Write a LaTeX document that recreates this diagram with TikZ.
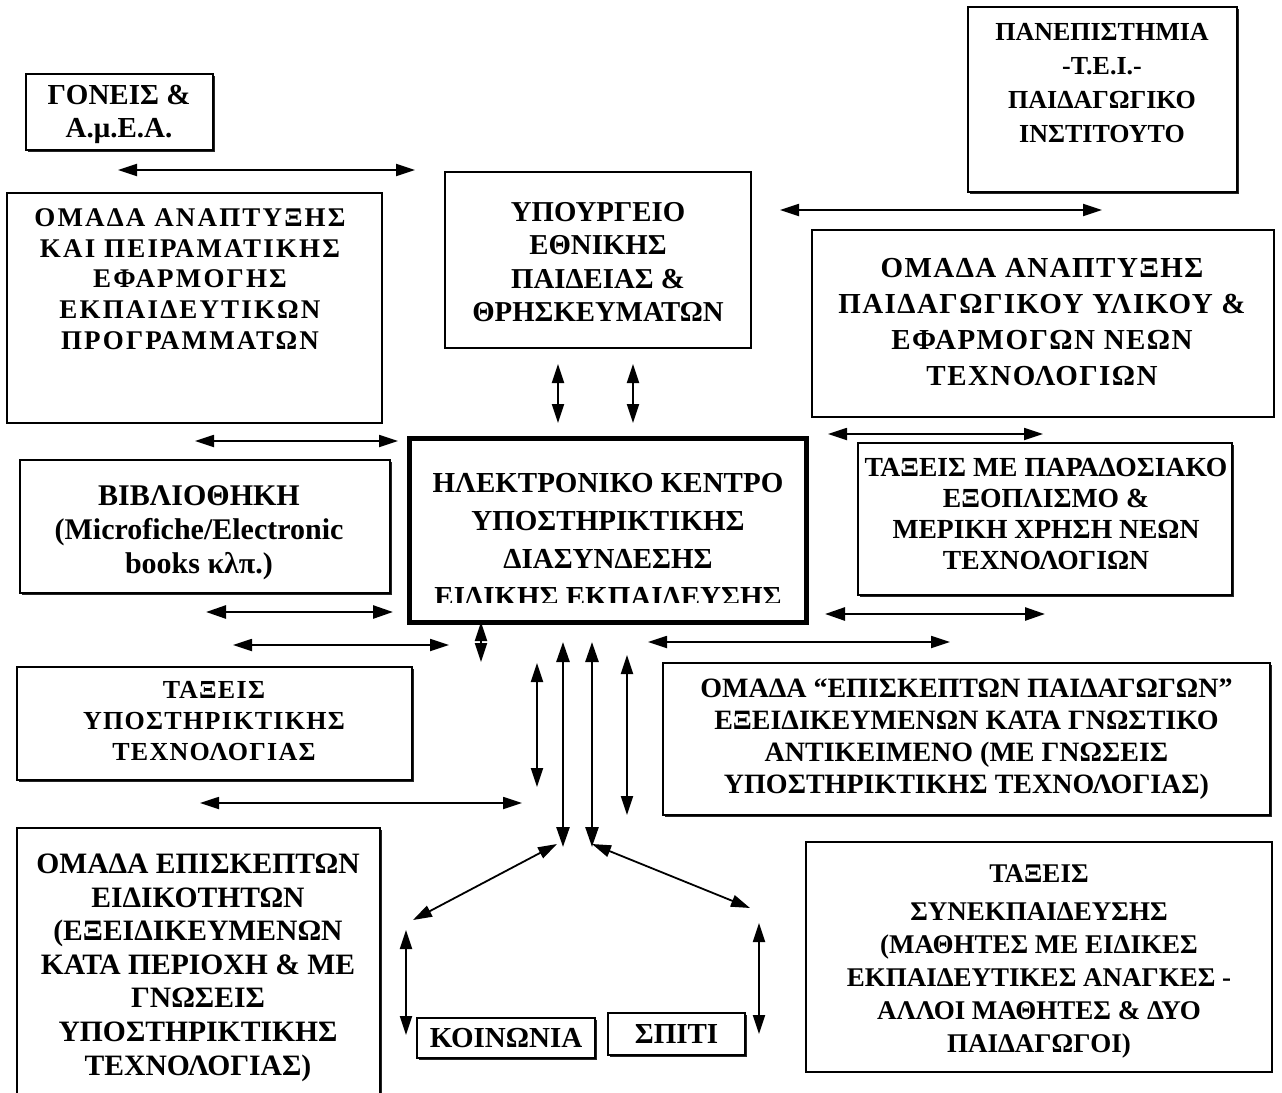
\documentclass[tikz,border=0pt]{standalone}
\usepackage{fontspec}
\setmainfont{Liberation Serif}
\usetikzlibrary{arrows.meta,fit,shadows}

\newcommand{\fs}[2]{\fontsize{#1}{#2}\selectfont\bfseries}

\begin{document}
\begin{tikzpicture}[x=0.5pt,y=-0.5pt,line width=0.9pt,>=Triangle,
  box/.style={draw,line width=1.2pt,fill=white,inner sep=0pt},
  shad/.style={drop shadow={shadow xshift=1.1pt,shadow yshift=-1.1pt,fill=black,opacity=0.85}},
  txt/.style={inner sep=0pt,align=center},
  link/.style={<->,line width=0.9pt,>={Triangle[length=9.5pt,width=6pt]}},
  blink/.style={<->,line width=1.3pt,>={Triangle[length=10pt,width=6.5pt]}}]
\useasboundingbox (0,0) rectangle (1282,1093);
\clip (0,0) rectangle (1282,1093);
% ---------- top row ----------
\node[box,shad,fit={(26,74) (213,150)}] (gon) {};
\node[txt,font=\fs{14.5}{16.5}] (gon-t) at (119,114) {ΓΟΝΕΙΣ \&\\Α.μ.Ε.Α.};
\node[box,shad,fit={(968,7) (1237,192)}] (pan) {};
\node[txt,anchor=north,font=\fs{13}{17}] (pan-t) at (1102,22) {ΠΑΝΕΠΙΣΤΗΜΙΑ\\-Τ.Ε.Ι.-\\ΠΑΙΔΑΓΩΓΙΚΟ\\ΙΝΣΤΙΤΟΥΤΟ};
\node[box,fit={(445,172) (751,348)}] (ypo) {};
\node[txt,font=\fs{14.4}{16.7}] (ypo-t) at (598,262) {ΥΠΟΥΡΓΕΙΟ\\ΕΘΝΙΚΗΣ\\ΠΑΙΔΕΙΑΣ \&\\ΘΡΗΣΚΕΥΜΑΤΩΝ};
\node[box,fit={(7,193) (382,423)}] (omA) {};
\node[txt,anchor=north,font={\fs{13.5}{15.3}\addfontfeatures{LetterSpace=8}}] (omA-t) at (190,208)
  {ΟΜΑΔΑ ΑΝΑΠΤΥΞΗΣ\\ΚΑΙ ΠΕΙΡΑΜΑΤΙΚΗΣ\\ΕΦΑΡΜΟΓΗΣ\\ΕΚΠΑΙΔΕΥΤΙΚΩΝ\\ΠΡΟΓΡΑΜΜΑΤΩΝ};
\node[box,fit={(812,230) (1274,417)}] (omP) {};
\node[txt,font={\fs{14.5}{18}\addfontfeatures{LetterSpace=5}}] (omP-t) at (1042,322)
  {ΟΜΑΔΑ ΑΝΑΠΤΥΞΗΣ\\ΠΑΙΔΑΓΩΓΙΚΟΥ ΥΛΙΚΟΥ \&\\ΕΦΑΡΜΟΓΩΝ ΝΕΩΝ\\ΤΕΧΝΟΛΟΓΙΩΝ};
% ---------- centre ----------
\node[box,line width=2.5pt,fit={(409,438) (806,622)}] (kdr) {};
\begin{scope}
  \clip (409,438) rectangle (806,602.5);
  \node[txt,anchor=north,font=\fs{14.5}{19}] (kdr-t) at (608,472)
    {ΗΛΕΚΤΡΟΝΙΚΟ ΚΕΝΤΡΟ\\ΥΠΟΣΤΗΡΙΚΤΙΚΗΣ\\ΔΙΑΣΥΝΔΕΣΗΣ\\ΕΙΔΙΚΗΣ ΕΚΠΑΙΔΕΥΣΗΣ};
\end{scope}
\node[box,shad,fit={(20,460) (390,593)}] (bib) {};
\node[txt,font=\fs{15}{17}] (bib-t) at (199,533) {ΒΙΒΛΙΟΘΗΚΗ\\(Microfiche/Electronic\\books κλπ.)};
\node[box,shad,fit={(858,443) (1232,595)}] (par) {};
\node[txt,font=\fs{13.8}{15.5}] (par-t) at (1046,514) {ΤΑΞΕΙΣ ΜΕ ΠΑΡΑΔΟΣΙΑΚΟ\\ΕΞΟΠΛΙΣΜΟ \&\\ΜΕΡΙΚΗ ΧΡΗΣΗ ΝΕΩΝ\\ΤΕΧΝΟΛΟΓΙΩΝ};
% ---------- lower part ----------
\node[box,shad,fit={(17,667) (412,780)}] (tyt) {};
\node[txt,font={\fs{13}{15.5}\addfontfeatures{LetterSpace=5}}] (tyt-t) at (214,721)
  {ΤΑΞΕΙΣ\\ΥΠΟΣΤΗΡΙΚΤΙΚΗΣ\\ΤΕΧΝΟΛΟΓΙΑΣ};
\node[box,shad,fit={(663,663) (1270,815)}] (epp) {};
\node[txt,font=\fs{14}{16}] (epp-t) at (epp.center)
  {ΟΜΑΔΑ “ΕΠΙΣΚΕΠΤΩΝ ΠΑΙΔΑΓΩΓΩΝ”\\ΕΞΕΙΔΙΚΕΥΜΕΝΩΝ ΚΑΤΑ ΓΝΩΣΤΙΚΟ\\ΑΝΤΙΚΕΙΜΕΝΟ (ΜΕ ΓΝΩΣΕΙΣ\\ΥΠΟΣΤΗΡΙΚΤΙΚΗΣ ΤΕΧΝΟΛΟΓΙΑΣ)};
\node[box,shad,fit={(17,828) (380,1110)}] (epe) {};
\node[txt,anchor=north,font=\fs{14.8}{16.8}] (epe-t) at (198,853)
  {ΟΜΑΔΑ ΕΠΙΣΚΕΠΤΩΝ\\ΕΙΔΙΚΟΤΗΤΩΝ\\(ΕΞΕΙΔΙΚΕΥΜΕΝΩΝ\\ΚΑΤΑ ΠΕΡΙΟΧΗ \& ΜΕ\\ΓΝΩΣΕΙΣ\\ΥΠΟΣΤΗΡΙΚΤΙΚΗΣ\\ΤΕΧΝΟΛΟΓΙΑΣ)};
\node[box,fit={(806,842) (1272,1072)}] (syn) {};
\node[txt,font=\fs{13.5}{16.4}] (syn-t) at (1039,961)
  {ΤΑΞΕΙΣ\\[3pt]ΣΥΝΕΚΠΑΙΔΕΥΣΗΣ\\(ΜΑΘΗΤΕΣ ΜΕ ΕΙΔΙΚΕΣ\\ΕΚΠΑΙΔΕΥΤΙΚΕΣ ΑΝΑΓΚΕΣ -\\ΑΛΛΟΙ ΜΑΘΗΤΕΣ \& ΔΥΟ\\ΠΑΙΔΑΓΩΓΟΙ)};
\node[box,shad,fit={(417,1018) (595,1058)}] (koi) {};
\node[txt,font=\fs{14.5}{16}] (koi-t) at (koi.center) {ΚΟΙΝΩΝΙΑ};
\node[box,shad,fit={(608,1013) (745,1055)}] (spi) {};
\node[txt,font=\fs{14.5}{16}] (spi-t) at (spi.center) {ΣΠΙΤΙ};
% ---------- connectors ----------
\coordinate (gon-a) at (118,170);  \coordinate (gon-b) at (415,170);
\coordinate (pan-a) at (780,210);  \coordinate (pan-b) at (1102,210);
\coordinate (omA-a) at (195,441);  \coordinate (omA-b) at (398,441);
\coordinate (ypo-a) at (558,364);  \coordinate (ypo-b) at (558,423);
\coordinate (ypo-c) at (633,364);  \coordinate (ypo-d) at (633,423);
\coordinate (omP-a) at (828,434);  \coordinate (omP-b) at (1043,434);
\coordinate (bib-a) at (206,612);  \coordinate (bib-b) at (393,612);
\coordinate (par-a) at (825,614);  \coordinate (par-b) at (1045,614);
\coordinate (tyt-a) at (233,645);  \coordinate (tyt-b) at (449,645);
\coordinate (epp-a) at (648,642);  \coordinate (epp-b) at (950,642);
\coordinate (kdr-a) at (481,622);  \coordinate (kdr-b) at (481,662);
\coordinate (v1-a) at (537,663);   \coordinate (v1-b) at (537,787);
\coordinate (v2-a) at (563,642);   \coordinate (v2-b) at (563,847);
\coordinate (v3-a) at (592,642);   \coordinate (v3-b) at (592,847);
\coordinate (v4-a) at (627,655);   \coordinate (v4-b) at (627,815);
\coordinate (epe-a) at (200,803);  \coordinate (epe-b) at (522,803);
\coordinate (koi-a) at (557,844);  \coordinate (koi-b) at (413,920);
\coordinate (spi-a) at (592,844);  \coordinate (spi-b) at (750,908);
\coordinate (koi-c) at (406,930);  \coordinate (koi-d) at (406,1035);
\coordinate (spi-c) at (759,923);  \coordinate (spi-d) at (759,1034);
\draw[link] (gon-a) -- (gon-b);
\draw[link] (pan-a) -- (pan-b);
\draw[link] (omA-a) -- (omA-b);
\draw[link] (ypo-a) -- (ypo-b);
\draw[link] (ypo-c) -- (ypo-d);
\draw[link] (omP-a) -- (omP-b);
\draw[blink] (bib-a) -- (bib-b);
\draw[blink] (par-a) -- (par-b);
\draw[link] (tyt-a) -- (tyt-b);
\draw[link] (epp-a) -- (epp-b);
\draw[link] (kdr-a) -- (kdr-b);
\draw[link] (v1-a) -- (v1-b);
\draw[blink] (v2-a) -- (v2-b);
\draw[blink] (v3-a) -- (v3-b);
\draw[link] (v4-a) -- (v4-b);
\draw[link] (epe-a) -- (epe-b);
\draw[link] (koi-a) -- (koi-b);
\draw[link] (spi-a) -- (spi-b);
\draw[link] (koi-c) -- (koi-d);
\draw[link] (spi-c) -- (spi-d);
\end{tikzpicture}
\end{document}
